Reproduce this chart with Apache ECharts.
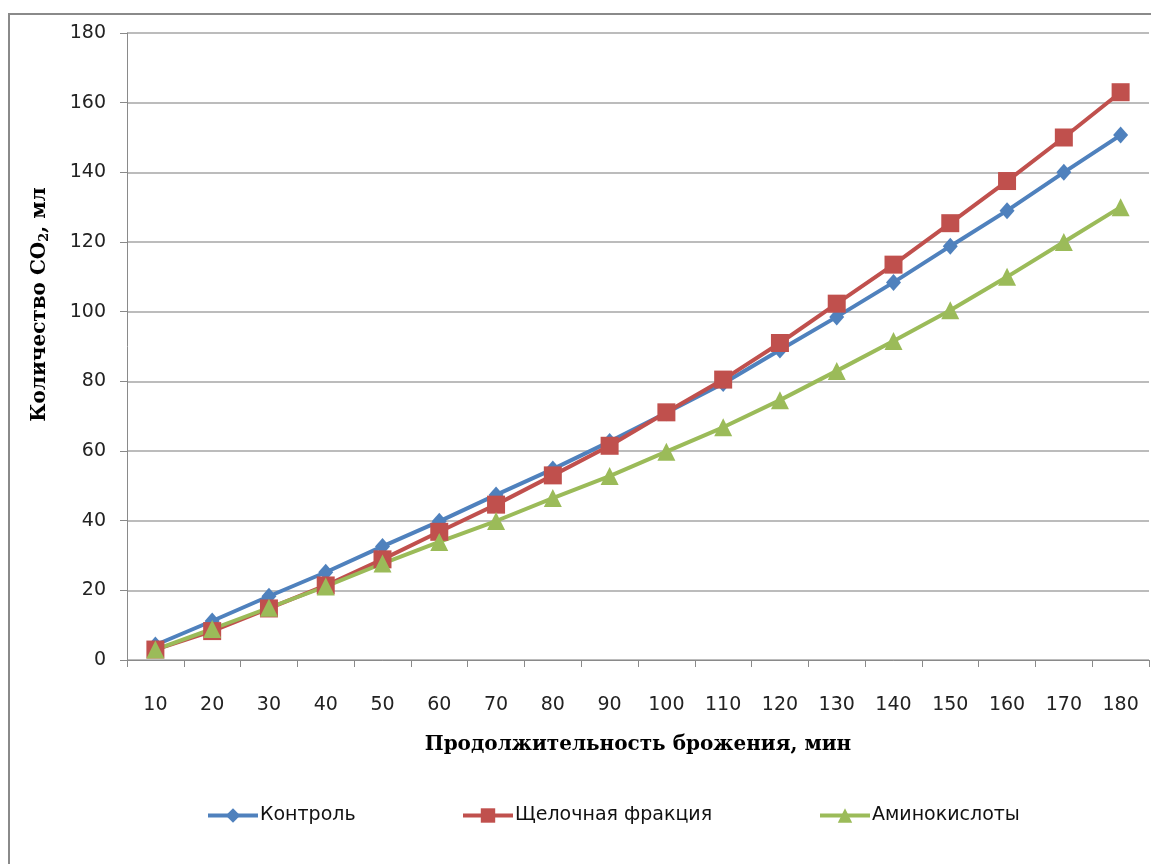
<!DOCTYPE html>
<html>
<head>
<meta charset="utf-8">
<script src="https://cdn.jsdelivr.net/npm/echarts@6/dist/echarts.min.js"></script>
<style>html,body{margin:0;padding:0;background:#fff;}#c{width:1151px;height:864px;}</style>
</head>
<body>
<div id="c"></div>
<script>
const categories = ['10','20','30','40','50','60','70','80','90','100','110','120','130','140','150','160','170','180'];
const kontrol = [4.3, 11.2, 18.3, 25.2, 32.6, 39.8, 47.4, 54.8, 62.7, 71, 79.4, 89, 98.5, 108.4, 118.8, 129, 140, 150.7];
const shchelochnaya = [3, 8.3, 14.8, 21.4, 28.9, 36.8, 44.6, 53, 61.5, 71.1, 80.5, 91, 102.3, 113.5, 125.4, 137.5, 150, 163];
const aminokisloty = [3, 8.9, 15, 21.1, 27.7, 33.9, 39.9, 46.5, 52.8, 59.8, 66.8, 74.6, 83, 91.6, 100.4, 110, 120, 130];
const seriesNames = ['Контроль', 'Щелочная фракция', 'Аминокислоты'];
const yTicks = {min: 0, max: 180, interval: 20};

const chart = echarts.init(document.getElementById('c'));
const tickFont = {fontFamily: 'DejaVu Sans, sans-serif', fontSize: 19, color: '#222'};
const nameFont = {fontFamily: 'DejaVu Serif, serif', fontWeight: 'bold', fontSize: 20, color: '#000'};
const legendLefts = [201, 456, 813];
const legends = seriesNames.map((n, i) => ({
  left: legendLefts[i], top: 801, itemWidth: 50, itemHeight: 18, itemGap: 4,
  lineStyle: {width: 4},
  textStyle: {fontFamily: 'DejaVu Sans, sans-serif', fontSize: 19, color: '#111', padding: [0, 0, 0, -3]},
  data: [n]
}));
chart.setOption({
  animation: false,
  backgroundColor: '#fff',
  graphic: [{type: 'rect', shape: {x: 9, y: 14, width: 1200, height: 900}, style: {fill: 'none', stroke: '#8a8a8a', lineWidth: 2}, silent: true}],
  grid: {left: 127, right: 2, top: 33, bottom: 204},
  legend: legends,
  xAxis: {
    type: 'category', data: categories, boundaryGap: true,
    name: 'Продолжительность брожения, мин', nameLocation: 'middle', nameGap: 75,
    nameTextStyle: nameFont,
    axisLine: {lineStyle: {color: '#8a8a8a', width: 1}},
    axisTick: {show: true, length: 7, lineStyle: {color: '#8a8a8a'}},
    axisLabel: Object.assign({margin: 36}, tickFont),
    splitLine: {show: false}
  },
  yAxis: {
    type: 'value', min: yTicks.min, max: yTicks.max, interval: yTicks.interval,
    name: '{a|Количество CO}{s|2}{a|, мл}', nameLocation: 'middle', nameGap: 76,
    nameTextStyle: {padding: [0, 0, 0, 84], rich: {
      a: nameFont,
      s: {fontFamily: 'DejaVu Serif, serif', fontWeight: 'bold', fontSize: 13, color: '#000', verticalAlign: 'bottom', padding: [10, 0, 0, 0]}
    }},
    axisLine: {show: true, lineStyle: {color: '#8a8a8a', width: 1}},
    axisTick: {show: true, length: 7, lineStyle: {color: '#8a8a8a'}},
    axisLabel: Object.assign({margin: 21}, tickFont),
    splitLine: {show: true, lineStyle: {color: '#a6a6a6', width: 1.5}}
  },
  series: [
    {name: seriesNames[0], type: 'line', data: kontrol, symbol: 'diamond', symbolSize: [15, 17],
     itemStyle: {color: '#4F81BD'}, lineStyle: {color: '#4F81BD', width: 4}},
    {name: seriesNames[1], type: 'line', data: shchelochnaya, symbol: 'rect', symbolSize: 18,
     itemStyle: {color: '#C0504D'}, lineStyle: {color: '#C0504D', width: 4}},
    {name: seriesNames[2], type: 'line', data: aminokisloty, symbol: 'triangle', symbolSize: 18,
     itemStyle: {color: '#9BBB59'}, lineStyle: {color: '#9BBB59', width: 4}}
  ]
});
</script>
</body>
</html>
